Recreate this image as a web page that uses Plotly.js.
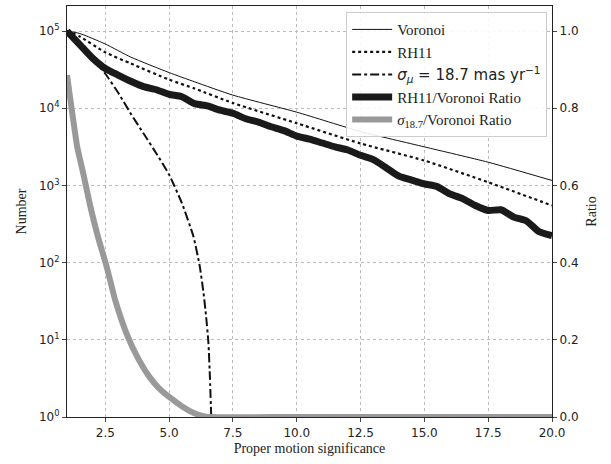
<!DOCTYPE html>
<html><head><script src="https://cdn.plot.ly/plotly-3.0.1.min.js"></script></head>
<body style="margin:0">
<div id="c" style="width:611px;height:464px"></div>
<script>
const voronoiX = [1, 1.5, 2.5, 3.5, 5, 6, 7.5, 10, 12.5, 15, 17.5, 20];
const voronoiY = [1e5, 9.3e4, 6.8e4, 4.6e4, 2.9e4, 2.2e4, 1.48e4, 8.9e3, 5.0e3, 3.16e3, 2.0e3, 1.16e3];
const rh11X = [1, 1.5, 2.5, 3.5, 5, 6, 7.5, 10, 12.5, 15, 17.5, 20];
const rh11Y = [1e5, 8.5e4, 5.3e4, 3.8e4, 2.35e4, 1.8e4, 1.17e4, 6.4e3, 3.5e3, 2.1e3, 1.1e3, 550];
const sigX = [1, 1.5, 2, 2.5, 3, 3.5, 4, 4.5, 5, 5.5, 5.95, 6.2, 6.35, 6.45, 6.54, 6.6, 6.65];
const sigY = [9.5e4, 6.3e4, 4.3e4, 2.8e4, 1.6e4, 8.5e3, 4.7e3, 2.6e3, 1.38e3, 590, 220, 90, 40, 20, 9.1, 3.2, 1.0];
const ratioX = [1, 1.5, 2, 2.5, 3, 3.5, 4, 4.5, 5, 5.5, 6, 6.5, 7, 7.5, 8, 8.5, 9, 9.5, 10, 10.5, 11, 11.5, 12, 12.5, 13, 13.5, 14, 14.5, 15, 15.5, 16, 16.5, 17, 17.5, 18, 18.5, 19, 19.5, 20];
const ratioY = [1.0, 0.965, 0.93, 0.903, 0.886, 0.87, 0.856, 0.848, 0.836, 0.83, 0.812, 0.806, 0.795, 0.787, 0.773, 0.764, 0.752, 0.742, 0.728, 0.72, 0.71, 0.7, 0.692, 0.678, 0.667, 0.646, 0.624, 0.614, 0.604, 0.597, 0.578, 0.566, 0.548, 0.535, 0.537, 0.518, 0.508, 0.48, 0.47];
const gRatioX = [1, 1.2, 1.4, 1.64, 1.9, 2.2, 2.56, 2.9, 3.34, 3.8, 4.25, 4.6, 5.04, 5.5, 5.95, 6.3, 6.6, 10, 15, 20];
const gRatioY = [0.886, 0.79, 0.70, 0.63, 0.55, 0.47, 0.388, 0.30, 0.215, 0.15, 0.102, 0.075, 0.05, 0.028, 0.011, 0.003, 0.0, 0.0, 0.0, 0.0];
const yTickVals = [1, 10, 100, 1000, 10000, 100000];
const yTickText = ['10<sup>0</sup>','10<sup>1</sup>','10<sup>2</sup>','10<sup>3</sup>','10<sup>4</sup>','10<sup>5</sup>'];
const xTickVals = [2.5, 5, 7.5, 10, 12.5, 15, 17.5, 20];

const lf = {family:'Liberation Serif', size:14, color:'#222'};
const traces = [
 {x:voronoiX, y:voronoiY, name:'Voronoi', mode:'lines', line:{color:'#111', width:1, shape:'spline', smoothing:0.6}},
 {x:rh11X, y:rh11Y, name:'RH11', mode:'lines', line:{color:'#111', width:2.2, dash:'dot', shape:'spline', smoothing:0.6}},
 {x:sigX, y:sigY, name:'<span style="font-family:DejaVu Sans"><i>σ<sub>μ</sub></i> = 18.7 mas yr<sup>−1</sup></span>', mode:'lines', line:{color:'#111', width:2, dash:'dashdot', shape:'spline', smoothing:0.5}},
 {x:ratioX, y:ratioY, yaxis:'y2', name:'RH11/Voronoi Ratio', mode:'lines', line:{color:'#1a1a1a', width:7, shape:'spline', smoothing:0.6}},
 {x:gRatioX, y:gRatioY, yaxis:'y2', name:'<i>σ</i><sub>18.7</sub>/Voronoi Ratio', mode:'lines', line:{color:'#999', width:6, shape:'spline', smoothing:0.5}}
];
const grid = {showgrid:true, gridcolor:'#bbb', griddash:'3px,3px', gridwidth:1};
const layout = {
 width:611, height:464, margin:{l:67, r:59, t:6, b:47},
 paper_bgcolor:'white', plot_bgcolor:'white', showlegend:true,
 font:{family:'DejaVu Sans', size:12, color:'#222'},
 xaxis:Object.assign({range:[1,20], tickvals:xTickVals, tickformat:'.1f', ticks:'outside', ticklen:4,
   showline:true, mirror:true, linecolor:'#222', linewidth:1.2, zeroline:false,
   title:{text:'Proper motion significance', font:lf, standoff:4}}, grid),
 yaxis:Object.assign({type:'log', range:[0, 5.325], tickvals:yTickVals, ticktext:yTickText, ticks:'outside', ticklen:4,
   showline:true, linecolor:'#222', linewidth:1.2, zeroline:false,
   title:{text:'Number', font:lf, standoff:8}}, grid),
 yaxis2:{overlaying:'y', side:'right', range:[0,1.065], tickvals:[0,0.2,0.4,0.6,0.8,1.0], tickformat:'.1f',
   ticks:'outside', ticklen:4, showgrid:false, showline:true, linecolor:'#222', linewidth:1.2, zeroline:false,
   title:{text:'Ratio', font:lf, standoff:8}},
 legend:{x:0.99, y:0.985, xanchor:'right', yanchor:'top', bgcolor:'rgba(255,255,255,0.9)', bordercolor:'#ccc', borderwidth:1,
   font:{family:'Liberation Serif', size:15, color:'#222'}, tracegroupgap:0, itemwidth:40}
};
Plotly.newPlot('c', traces, layout, {displayModeBar:false});
</script></body></html>
